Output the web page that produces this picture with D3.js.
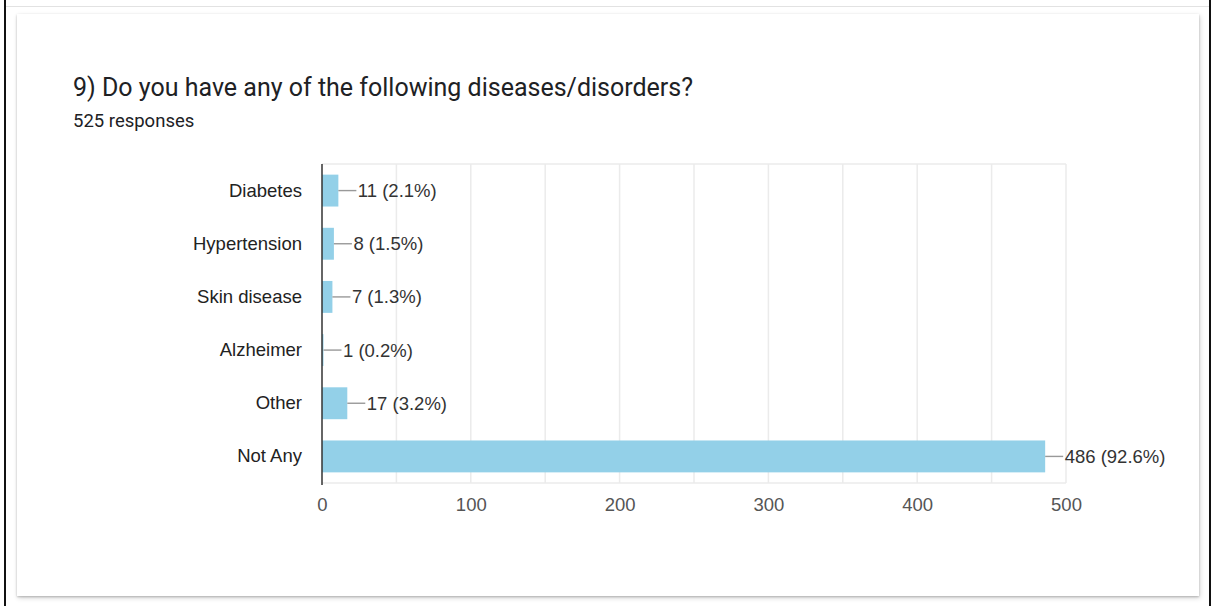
<!DOCTYPE html>
<html>
<head>
<meta charset="utf-8">
<script src="https://cdn.jsdelivr.net/npm/d3@7"></script>
<style>
  html, body { margin: 0; padding: 0; background: #fff; }
  body { width: 1211px; height: 606px; position: relative; overflow: hidden; }
  #edgeL { position: absolute; left: 4px; top: 0; width: 2px; height: 606px; background: #111; }
  #edgeR { position: absolute; left: 1209px; top: 0; width: 2px; height: 606px; background: #111; }
  #edgeT { position: absolute; left: 6px; top: 6px; width: 1203px; height: 1px; background: #e2e2e2; }
  #card { position: absolute; left: 17px; top: 14px; width: 1182px; height: 582px; background: #fff;
          box-shadow: 0 1px 2px rgba(0,0,0,0.22), 1px 2px 5px rgba(0,0,0,0.16); }
  svg { position: absolute; left: 0; top: 0; }
</style>
</head>
<body>
<div id="edgeL"></div>
<div id="edgeR"></div>
<div id="edgeT"></div>
<div id="card"></div>
<svg id="chart" width="1211" height="606"></svg>
<script>
// Survey question 9: responses per disease/disorder
const title = "9) Do you have any of the following diseases/disorders?";
const subtitle = "525 responses";
const categories = ["Diabetes", "Hypertension", "Skin disease", "Alzheimer", "Other", "Not Any"];
const counts = [11, 8, 7, 1, 17, 486];
const percents = ["2.1%", "1.5%", "1.3%", "0.2%", "3.2%", "92.6%"];
const tickValues = [0, 100, 200, 300, 400, 500];
const gridValues = [50, 100, 150, 200, 250, 300, 350, 400, 450, 500];

const svg = d3.select("#chart");

svg.append("text")
  .attr("x", 73).attr("y", 96)
  .attr("font-family", "Roboto, 'Open Sans', sans-serif")
  .attr("font-size", 25)
  .attr("fill", "#202124")
  .text(title);

svg.append("text")
  .attr("x", 73).attr("y", 127)
  .attr("font-family", "Roboto, sans-serif")
  .attr("font-size", 18.5)
  .attr("fill", "#202124")
  .text(subtitle);

const plotL = 322, plotR = 1066, plotT = 164, plotB = 483;

const x = d3.scaleLinear().domain([0, 500]).range([plotL, plotR]);
const y = d3.scaleBand().domain(categories).range([plotT, plotB]).paddingInner(0.4).paddingOuter(0.2);

const font = "'Liberation Sans', Arial, sans-serif";
const fs = 18.5;

// grid
const g = svg.append("g");
g.selectAll("line.v").data(gridValues).join("line")
  .attr("x1", d => x(d)).attr("x2", d => x(d))
  .attr("y1", plotT).attr("y2", plotB)
  .attr("stroke", "#ebebeb").attr("stroke-width", 1.5);
g.append("line").attr("x1", plotL).attr("x2", plotR).attr("y1", plotT).attr("y2", plotT)
  .attr("stroke", "#ebebeb").attr("stroke-width", 1.5);
g.append("line").attr("x1", plotL).attr("x2", plotR).attr("y1", plotB).attr("y2", plotB)
  .attr("stroke", "#ebebeb").attr("stroke-width", 1.5);

// bars
const data = categories.map((c, i) => ({ c, v: counts[i], p: percents[i] }));
svg.append("g").selectAll("rect").data(data).join("rect")
  .attr("x", x(0))
  .attr("y", d => y(d.c))
  .attr("width", d => x(d.v) - x(0))
  .attr("height", y.bandwidth())
  .attr("fill", "#93d0e8");

// value labels with leader lines
const lab = svg.append("g");
lab.selectAll("line").data(data).join("line")
  .attr("x1", d => x(d.v)).attr("x2", d => x(d.v) + 18)
  .attr("y1", d => y(d.c) + y.bandwidth() / 2).attr("y2", d => y(d.c) + y.bandwidth() / 2)
  .attr("stroke", "#999").attr("stroke-width", 1.4);
lab.selectAll("text").data(data).join("text")
  .attr("x", d => x(d.v) + 19.5)
  .attr("y", d => y(d.c) + y.bandwidth() / 2)
  .attr("dy", "0.35em")
  .attr("font-family", font).attr("font-size", fs)
  .attr("fill", "#333")
  .text(d => `${d.v} (${d.p})`);

// category axis
const yAxis = svg.append("g").attr("transform", `translate(${plotL},0)`)
  .call(d3.axisLeft(y).tickSize(0).tickPadding(20));
yAxis.select(".domain").remove();
yAxis.selectAll("text").attr("font-family", font).attr("font-size", fs).attr("fill", "#222");
svg.append("line").attr("x1", plotL).attr("x2", plotL).attr("y1", plotT).attr("y2", plotB + 2)
  .attr("stroke", "#333").attr("stroke-width", 1.5);

// value axis
const xAxis = svg.append("g").attr("transform", `translate(0,${plotB})`)
  .call(d3.axisBottom(x).tickValues(tickValues).tickSize(0).tickPadding(15));
xAxis.select(".domain").remove();
xAxis.selectAll("text").attr("font-family", font).attr("font-size", fs).attr("fill", "#555");
</script>
</body>
</html>
